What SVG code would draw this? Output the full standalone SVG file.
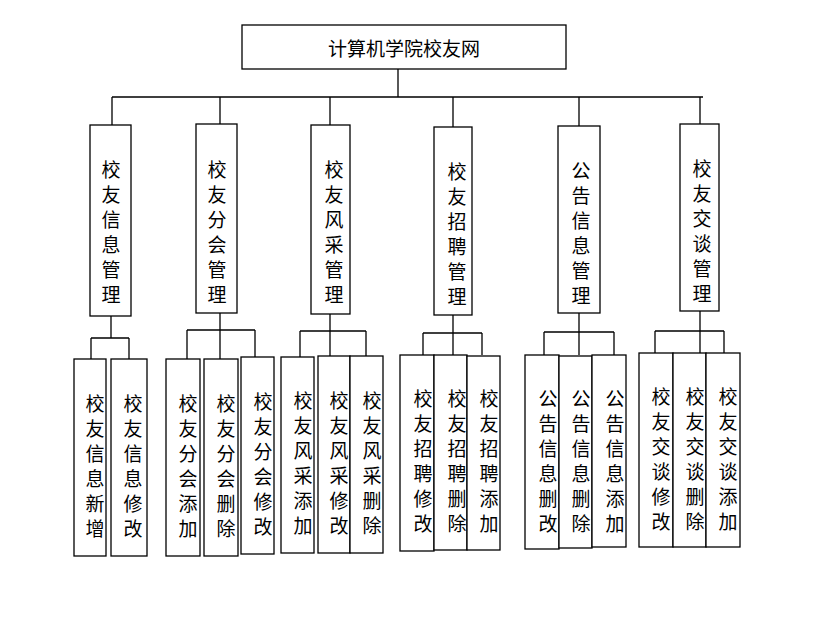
<svg xmlns="http://www.w3.org/2000/svg" width="816" height="625" viewBox="0 0 816 625">
<style>
rect{fill:#fff;stroke:#000;stroke-width:1.3}
rect.bg{stroke:none}
line,path{stroke:#000;stroke-width:1.3;fill:none}
text{font-family:"Noto Sans CJK SC","Noto Sans CJK JP",sans-serif;font-size:19px;fill:#000;text-anchor:middle}
</style>
<rect class="bg" width="816" height="625"/>
<g id="connectors">
<path d="M398 69V97M112 97H703M112 97V125M220 97V124M330 97V125M453 97V127M579 97V126M700 97V124"/>
<path d="M111 316V338M91 338H129M91 338V359M129 338V359"/>
<path d="M220 313V359M187 330H255M187 330V359M255 330V359"/>
<path d="M330 314V357M300 331H366M300 331V357M366 331V357"/>
<path d="M453 315V355M423 333H482M423 333V355M482 333V355"/>
<path d="M579 313V355M544 332H614M544 332V355M614 332V355"/>
<path d="M700 311V353M655 331H724M655 331V353M724 331V353"/>
</g>
<g id="root"><rect x="242" y="25" width="324" height="44"/><text x="404" y="56">计算机学院校友网</text></g>
<g id="n1"><rect x="90" y="125" width="41" height="191"/><text x="111" y="177"><tspan x="111">校</tspan><tspan x="111" dy="25">友</tspan><tspan x="111" dy="25">信</tspan><tspan x="111" dy="25">息</tspan><tspan x="111" dy="25">管</tspan><tspan x="111" dy="25">理</tspan></text></g>
<g id="n2"><rect x="196" y="124" width="41" height="189"/><text x="217" y="177"><tspan x="217">校</tspan><tspan x="217" dy="25">友</tspan><tspan x="217" dy="25">分</tspan><tspan x="217" dy="25">会</tspan><tspan x="217" dy="25">管</tspan><tspan x="217" dy="25">理</tspan></text></g>
<g id="n3"><rect x="311" y="125" width="39" height="189"/><text x="334" y="177"><tspan x="334">校</tspan><tspan x="334" dy="25">友</tspan><tspan x="334" dy="25">风</tspan><tspan x="334" dy="25">采</tspan><tspan x="334" dy="25">管</tspan><tspan x="334" dy="25">理</tspan></text></g>
<g id="n4"><rect x="434" y="127" width="38" height="188"/><text x="457" y="179"><tspan x="457">校</tspan><tspan x="457" dy="25">友</tspan><tspan x="457" dy="25">招</tspan><tspan x="457" dy="25">聘</tspan><tspan x="457" dy="25">管</tspan><tspan x="457" dy="25">理</tspan></text></g>
<g id="n5"><rect x="558" y="126" width="42" height="187"/><text x="581" y="178"><tspan x="581">公</tspan><tspan x="581" dy="25">告</tspan><tspan x="581" dy="25">信</tspan><tspan x="581" dy="25">息</tspan><tspan x="581" dy="25">管</tspan><tspan x="581" dy="25">理</tspan></text></g>
<g id="n6"><rect x="680" y="124" width="39" height="187"/><text x="702" y="176"><tspan x="702">校</tspan><tspan x="702" dy="25">友</tspan><tspan x="702" dy="25">交</tspan><tspan x="702" dy="25">谈</tspan><tspan x="702" dy="25">管</tspan><tspan x="702" dy="25">理</tspan></text></g>
<g id="l1a"><rect x="74" y="359" width="32" height="197"/><text x="95" y="411"><tspan x="95">校</tspan><tspan x="95" dy="25">友</tspan><tspan x="95" dy="25">信</tspan><tspan x="95" dy="25">息</tspan><tspan x="95" dy="25">新</tspan><tspan x="95" dy="25">增</tspan></text></g>
<g id="l1b"><rect x="111" y="359" width="36" height="197"/><text x="133" y="411"><tspan x="133">校</tspan><tspan x="133" dy="25">友</tspan><tspan x="133" dy="25">信</tspan><tspan x="133" dy="25">息</tspan><tspan x="133" dy="25">修</tspan><tspan x="133" dy="25">改</tspan></text></g>
<g id="l2a"><rect x="166" y="359" width="34" height="197"/><text x="188" y="411"><tspan x="188">校</tspan><tspan x="188" dy="25">友</tspan><tspan x="188" dy="25">分</tspan><tspan x="188" dy="25">会</tspan><tspan x="188" dy="25">添</tspan><tspan x="188" dy="25">加</tspan></text></g>
<g id="l2b"><rect x="204" y="359" width="34" height="197"/><text x="226" y="411"><tspan x="226">校</tspan><tspan x="226" dy="25">友</tspan><tspan x="226" dy="25">分</tspan><tspan x="226" dy="25">会</tspan><tspan x="226" dy="25">删</tspan><tspan x="226" dy="25">除</tspan></text></g>
<g id="l2c"><rect x="241" y="357" width="33" height="197"/><text x="263" y="409"><tspan x="263">校</tspan><tspan x="263" dy="25">友</tspan><tspan x="263" dy="25">分</tspan><tspan x="263" dy="25">会</tspan><tspan x="263" dy="25">修</tspan><tspan x="263" dy="25">改</tspan></text></g>
<g id="l3a"><rect x="281" y="357" width="33" height="196"/><text x="303" y="408"><tspan x="303">校</tspan><tspan x="303" dy="25">友</tspan><tspan x="303" dy="25">风</tspan><tspan x="303" dy="25">采</tspan><tspan x="303" dy="25">添</tspan><tspan x="303" dy="25">加</tspan></text></g>
<g id="l3b"><rect x="318" y="356" width="32" height="197"/><text x="339" y="408"><tspan x="339">校</tspan><tspan x="339" dy="25">友</tspan><tspan x="339" dy="25">风</tspan><tspan x="339" dy="25">采</tspan><tspan x="339" dy="25">修</tspan><tspan x="339" dy="25">改</tspan></text></g>
<g id="l3c"><rect x="350" y="356" width="33" height="197"/><text x="372" y="408"><tspan x="372">校</tspan><tspan x="372" dy="25">友</tspan><tspan x="372" dy="25">风</tspan><tspan x="372" dy="25">采</tspan><tspan x="372" dy="25">删</tspan><tspan x="372" dy="25">除</tspan></text></g>
<g id="l4a"><rect x="400" y="355" width="34" height="196"/><text x="423" y="406"><tspan x="423">校</tspan><tspan x="423" dy="25">友</tspan><tspan x="423" dy="25">招</tspan><tspan x="423" dy="25">聘</tspan><tspan x="423" dy="25">修</tspan><tspan x="423" dy="25">改</tspan></text></g>
<g id="l4b"><rect x="434" y="355" width="33" height="195"/><text x="457" y="406"><tspan x="457">校</tspan><tspan x="457" dy="25">友</tspan><tspan x="457" dy="25">招</tspan><tspan x="457" dy="25">聘</tspan><tspan x="457" dy="25">删</tspan><tspan x="457" dy="25">除</tspan></text></g>
<g id="l4c"><rect x="467" y="356" width="33" height="194"/><text x="489" y="406"><tspan x="489">校</tspan><tspan x="489" dy="25">友</tspan><tspan x="489" dy="25">招</tspan><tspan x="489" dy="25">聘</tspan><tspan x="489" dy="25">添</tspan><tspan x="489" dy="25">加</tspan></text></g>
<g id="l5a"><rect x="525" y="355" width="34" height="194"/><text x="548" y="406"><tspan x="548">公</tspan><tspan x="548" dy="25">告</tspan><tspan x="548" dy="25">信</tspan><tspan x="548" dy="25">息</tspan><tspan x="548" dy="25">删</tspan><tspan x="548" dy="25">改</tspan></text></g>
<g id="l5b"><rect x="559" y="356" width="33" height="192"/><text x="581" y="406"><tspan x="581">公</tspan><tspan x="581" dy="25">告</tspan><tspan x="581" dy="25">信</tspan><tspan x="581" dy="25">息</tspan><tspan x="581" dy="25">删</tspan><tspan x="581" dy="25">除</tspan></text></g>
<g id="l5c"><rect x="592" y="355" width="34" height="192"/><text x="615" y="406"><tspan x="615">公</tspan><tspan x="615" dy="25">告</tspan><tspan x="615" dy="25">信</tspan><tspan x="615" dy="25">息</tspan><tspan x="615" dy="25">添</tspan><tspan x="615" dy="25">加</tspan></text></g>
<g id="l6a"><rect x="639" y="353" width="34" height="194"/><text x="661" y="404"><tspan x="661">校</tspan><tspan x="661" dy="25">友</tspan><tspan x="661" dy="25">交</tspan><tspan x="661" dy="25">谈</tspan><tspan x="661" dy="25">修</tspan><tspan x="661" dy="25">改</tspan></text></g>
<g id="l6b"><rect x="673" y="353" width="33" height="194"/><text x="695" y="404"><tspan x="695">校</tspan><tspan x="695" dy="25">友</tspan><tspan x="695" dy="25">交</tspan><tspan x="695" dy="25">谈</tspan><tspan x="695" dy="25">删</tspan><tspan x="695" dy="25">除</tspan></text></g>
<g id="l6c"><rect x="706" y="353" width="34" height="194"/><text x="728" y="404"><tspan x="728">校</tspan><tspan x="728" dy="25">友</tspan><tspan x="728" dy="25">交</tspan><tspan x="728" dy="25">谈</tspan><tspan x="728" dy="25">添</tspan><tspan x="728" dy="25">加</tspan></text></g>
</svg>
